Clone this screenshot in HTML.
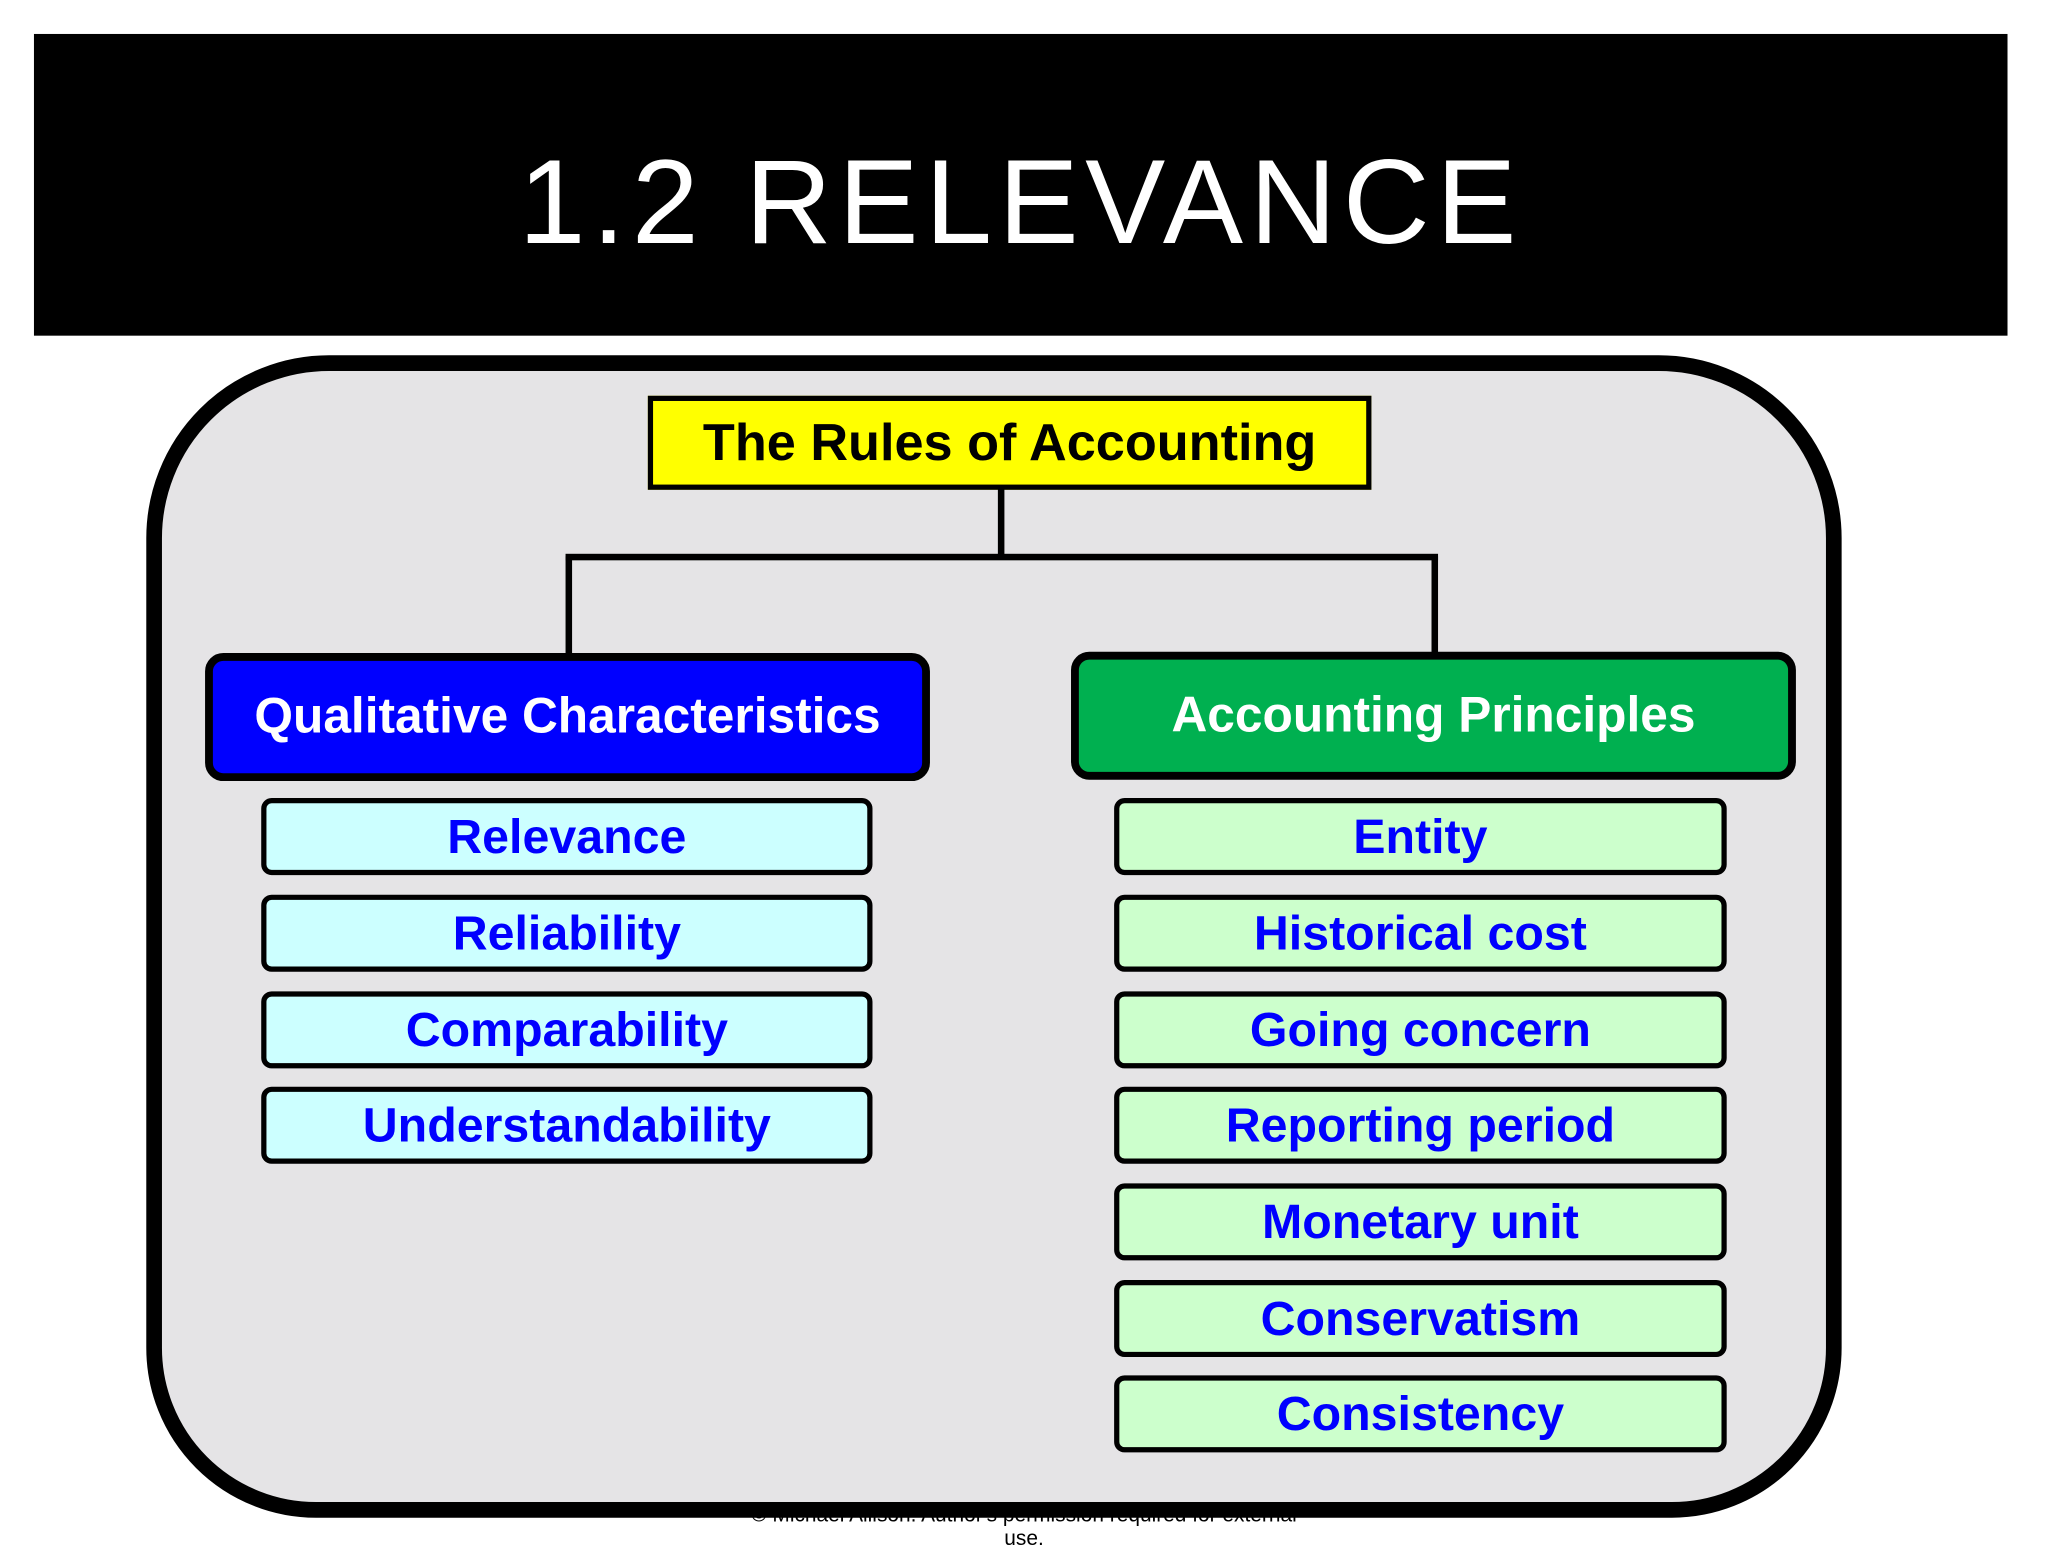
<!DOCTYPE html>
<html><head><meta charset="utf-8"><style>
html,body{margin:0;padding:0;background:#fff;width:2048px;height:1536px;overflow:hidden}
#w{position:absolute;left:0;top:0;width:1568px;height:1176px;transform:scale(1.306122);transform-origin:0 0}
.a{position:absolute;box-sizing:border-box}
.t{display:flex;align-items:center;justify-content:center;font-family:"Liberation Sans Narrow","Liberation Sans",sans-serif;font-weight:bold;white-space:nowrap}
.l{background:#ccffff;border:4px solid #000;border-radius:8px;color:#0000ff;font-size:37px;left:200px;width:468px;height:59px}
.r{background:#ccffcc;border:4px solid #000;border-radius:8px;color:#0000ff;font-size:37px;left:853px;width:469px;height:59px}
.k{background:#000}
</style></head><body><div id="w">
<div class="a" style="left:26px;top:26px;width:1511px;height:231px;background:#000"></div>
<div class="a t" style="left:26px;top:90px;width:1511px;height:130px;color:#fff;font-family:'Liberation Sans',sans-serif;font-weight:normal;font-size:92px;letter-spacing:5px">1.2 RELEVANCE</div>
<div class="a" style="left:558px;top:1152px;width:452px;height:24px;font-family:'Liberation Sans Narrow','Liberation Sans',sans-serif;font-size:16px;color:#000;text-align:center">© Michael Allison. Author's permission required for external use.</div>
<div class="a" style="left:112px;top:272px;width:1298px;height:890px;background:#e5e4e6;border:12px solid #000;border-radius:140px 140px 130px 130px"></div>
<div class="a t" style="left:496px;top:303px;width:554px;height:72px;background:#ffff00;border:4px solid #000;font-size:40px;color:#000">The Rules of Accounting</div>
<div class="a k" style="left:764px;top:374px;width:5px;height:54px"></div>
<div class="a k" style="left:433px;top:424px;width:668px;height:5px"></div>
<div class="a k" style="left:433px;top:426px;width:5px;height:76px"></div>
<div class="a k" style="left:1096px;top:426px;width:5px;height:75px"></div>
<div class="a t" style="left:157px;top:500px;width:555px;height:98px;background:#0000ff;border:6px solid #000;border-radius:14px;color:#fff;font-size:38px">Qualitative Characteristics</div>
<div class="a t" style="left:820px;top:499px;width:555px;height:98px;background:#00b050;border:6px solid #000;border-radius:14px;color:#fff;font-size:38px">Accounting Principles</div>
<div class="a t l" style="top:611px">Relevance</div>
<div class="a t l" style="top:685px">Reliability</div>
<div class="a t l" style="top:759px">Comparability</div>
<div class="a t l" style="top:832px">Understandability</div>
<div class="a t r" style="top:611px">Entity</div>
<div class="a t r" style="top:685px">Historical cost</div>
<div class="a t r" style="top:759px">Going concern</div>
<div class="a t r" style="top:832px">Reporting period</div>
<div class="a t r" style="top:906px">Monetary unit</div>
<div class="a t r" style="top:980px">Conservatism</div>
<div class="a t r" style="top:1053px">Consistency</div>
</div></body></html>
